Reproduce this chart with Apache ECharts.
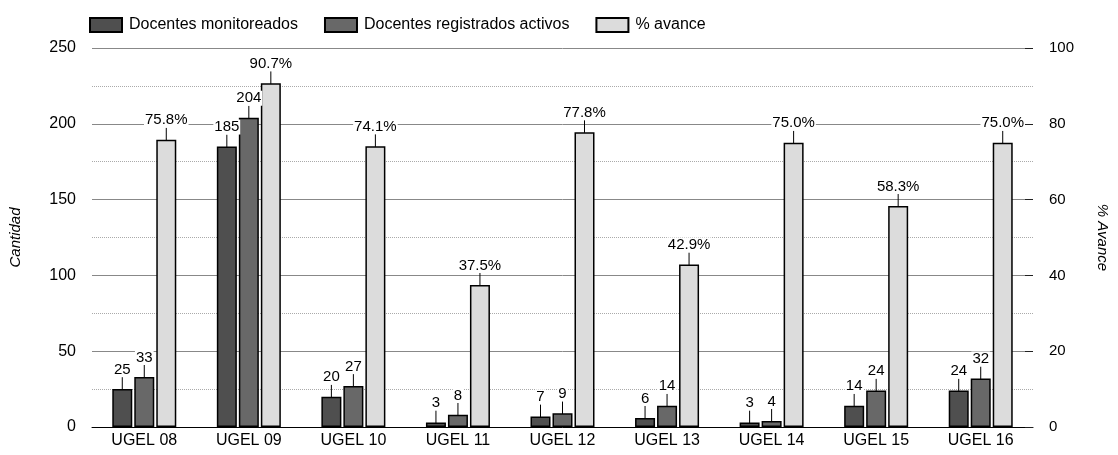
<!DOCTYPE html>
<html>
<head>
<meta charset="utf-8">
<script src="https://cdn.jsdelivr.net/npm/echarts@6/dist/echarts.min.js"></script>
<style>
  html, body { margin: 0; padding: 0; background: #fff; }
  #main { width: 1118px; height: 455px; }
</style>
</head>
<body>
<div id="main"></div>
<script>
// datos del grafico
const ugeles = ['UGEL 08', 'UGEL 09', 'UGEL 10', 'UGEL 11', 'UGEL 12', 'UGEL 13', 'UGEL 14', 'UGEL 15', 'UGEL 16'];
const monitoreados = [25, 185, 20, 3, 7, 6, 3, 14, 24];
const registrados = [33, 204, 27, 8, 9, 14, 4, 24, 32];
const avance = [75.8, 90.7, 74.1, 37.5, 77.8, 42.9, 75.0, 58.3, 75.0];

const chart = echarts.init(document.getElementById('main'));
const font = 'Liberation Sans, Arial, sans-serif';

// etiqueta encima de la barra (con linea guia)
function barLabel(fmt) {
  return {
    show: true,
    position: 'top',
    distance: 2,
    color: '#000',
    fontFamily: font,
    fontSize: 15,
    backgroundColor: '#fff',
    padding: [0, 1],
    formatter: fmt
  };
}

const option = {
  animation: false,
  textStyle: { fontFamily: font },
  legend: {
    top: 12,
    left: 84,
    icon: 'rect',
    itemWidth: 32,
    itemHeight: 14,
    itemGap: 26,
    textStyle: { color: '#000', fontSize: 16, fontFamily: font, padding: [0, 0, 0, 2] },
    data: ['Docentes monitoreados', 'Docentes registrados activos', '% avance']
  },
  grid: { left: 88, right: 71, top: 48, bottom: 28 },
  xAxis: {
    type: 'category',
    data: ugeles,
    axisLine: { lineStyle: { color: '#000', width: 1 } },
    axisTick: { show: false },
    axisLabel: { color: '#000', fontSize: 16, margin: 6 }
  },
  yAxis: [
    {
      type: 'value',
      min: 0, max: 250, interval: 50,
      name: 'Cantidad',
      nameLocation: 'middle',
      nameGap: 69,
      nameTextStyle: { fontStyle: 'italic', fontSize: 15, color: '#000' },
      axisLine: { show: false },
      axisTick: { show: false },
      axisLabel: { color: '#000', fontSize: 16, margin: 16 },
      splitLine: { lineStyle: { color: '#888', width: 1 } },
      minorTick: { show: false, splitNumber: 2 },
      minorSplitLine: { show: true, lineStyle: { color: '#aaa', type: 'dotted' } }
    },
    {
      type: 'value',
      min: 0, max: 100, interval: 20,
      name: '% Avance',
      nameLocation: 'middle',
      nameGap: 62,
      nameRotate: -90,
      nameTextStyle: { fontStyle: 'italic', fontSize: 15, color: '#000' },
      axisLine: { show: true, lineStyle: { color: 'rgba(255,255,255,0)' } },
      axisTick: { show: true, inside: true, length: 8, lineStyle: { color: '#222', width: 1 } },
      axisLabel: { color: '#000', fontSize: 15, margin: 16 },
      splitLine: { show: false }
    }
  ],
  series: [
    {
      name: 'Docentes monitoreados',
      type: 'bar',
      barWidth: 20,
      barGap: '10%',
      data: monitoreados,
      itemStyle: { color: '#4f4f4f', borderColor: '#000', borderWidth: 1.5 },
      label: barLabel('{c}'),
      labelLayout: { dy: -10 },
      labelLine: { show: true, lineStyle: { color: '#000', width: 1 } }
    },
    {
      name: 'Docentes registrados activos',
      type: 'bar',
      barWidth: 20,
      barGap: '10%',
      data: registrados,
      itemStyle: { color: '#686868', borderColor: '#000', borderWidth: 1.5 },
      label: barLabel('{c}'),
      labelLayout: { dy: -10 },
      labelLine: { show: true, lineStyle: { color: '#000', width: 1 } }
    },
    {
      name: '% avance',
      type: 'bar',
      yAxisIndex: 1,
      barWidth: 20,
      barGap: '10%',
      data: avance,
      itemStyle: { color: '#dcdcdc', borderColor: '#000', borderWidth: 1.5 },
      label: barLabel(p => p.value.toFixed(1) + '%'),
      labelLayout: { dy: -10 },
      labelLine: { show: true, lineStyle: { color: '#000', width: 1 } }
    }
  ]
};

chart.setOption(option);
</script>
</body>
</html>
